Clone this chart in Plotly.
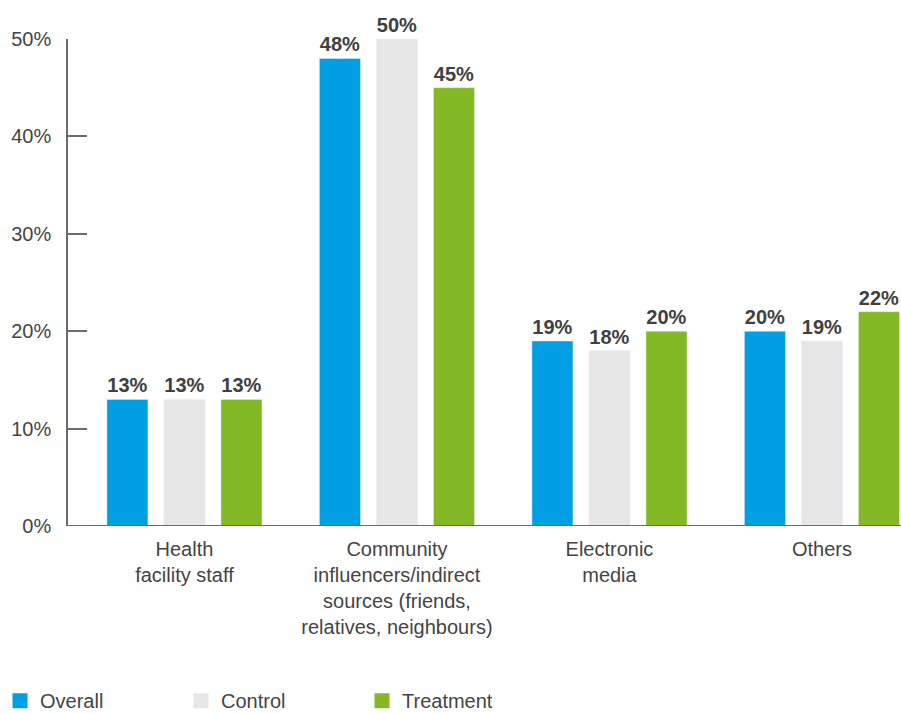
import plotly.graph_objects as go

categories = ["Health<br>facility staff",
              "Community<br>influencers/indirect<br>sources (friends,<br>relatives, neighbours)",
              "Electronic<br>media",
              "Others"]
overall = [13, 48, 19, 20]
control = [13, 50, 18, 19]
treatment = [13, 45, 20, 22]
series_names = ["Overall", "Control", "Treatment"]
colors = ["#009FE3", "#E6E6E6", "#84B926"]
tick_vals = [0, 10, 20, 30, 40, 50]
tick_text = ["0%", "10%", "20%", "30%", "40%", "50%"]

FONT = "Liberation Sans"
TXT = "#444444"

fig = go.Figure()
for name, vals, col in zip(series_names, [overall, control, treatment], colors):
    fig.add_trace(go.Bar(
        x=list(range(len(categories))), y=vals, name=name, marker_color=col,
        text=[f"{v}%" for v in vals], textposition="outside",
        textfont=dict(size=20, color="#404040", family=FONT, weight="bold"),
        cliponaxis=False, showlegend=False,
    ))
# legend entries with larger square symbols
for name, col in zip(series_names, colors):
    fig.add_trace(go.Scatter(
        x=[None], y=[None], mode="markers", name=name,
        marker=dict(symbol="square", size=15, color=col), showlegend=True,
    ))

fig.update_layout(
    width=901, height=714,
    margin=dict(l=68, r=0, t=39, b=188),
    plot_bgcolor="white", paper_bgcolor="white",
    barmode="group", bargap=0.195, bargroupgap=0.28,
    font=dict(family=FONT, size=20, color=TXT),
    legend=dict(orientation="h", xref="container", yref="container",
                x=0, xanchor="left", y=0.046, yanchor="top",
                entrywidth=136, entrywidthmode="pixels",
                font=dict(size=20, color=TXT), itemwidth=30),
    xaxis=dict(tickmode="array", tickvals=list(range(len(categories))), ticktext=categories,
               range=[-0.548, 3.372], showline=False,
               ticks="", showgrid=False, zeroline=False, ticklabelstandoff=9,
               tickfont=dict(size=20, color=TXT)),
    yaxis=dict(range=[0, 50], tickvals=tick_vals, ticktext=tick_text,
               showline=True, linecolor="#6b6b6b", linewidth=1.5,
               ticks="inside", ticklen=19, tickcolor="#6b6b6b", tickwidth=1.5,
               showgrid=False, zeroline=False, ticklabelstandoff=11,
               tickfont=dict(size=20, color=TXT)),
)
fig.add_shape(type="line", xref="paper", yref="y", x0=0, x1=1, y0=0, y1=0,
              line=dict(color="#6b6b6b", width=2), layer="above")

fig.write_html("out.html", config={"displayModeBar": False},
               post_script="document.body.style.margin='0';")
